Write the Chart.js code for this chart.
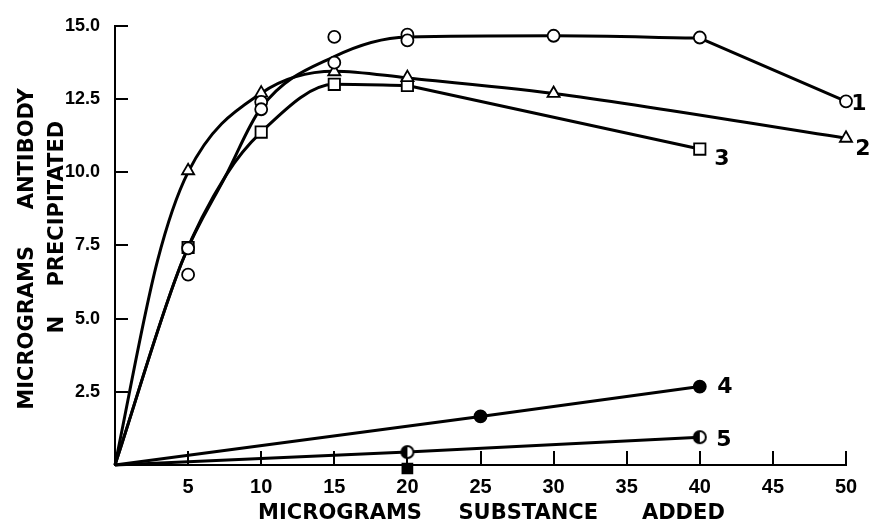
<!DOCTYPE html>
<html>
<head>
<meta charset="utf-8">
<title>Antibody precipitated vs substance added</title>
<script src="https://cdn.jsdelivr.net/npm/chart.js@4"></script>
<style>
  body { margin: 0; background: #fff; }
  canvas { display: block; }
</style>
</head>
<body>
<canvas id="chart" width="870" height="527"></canvas>
<script>
// tick values on the axes
var xTicks = [5, 10, 15, 20, 25, 30, 35, 40, 45, 50];
var yTicks = [2.5, 5, 7.5, 10, 12.5, 15];

// measured points (x = micrograms substance added, y = micrograms N precipitated)
var s1X = [5, 5, 10, 10, 15, 15, 20, 20, 30, 40, 50];
var s1Y = [7.4, 6.5, 12.4, 12.15, 14.62, 13.74, 14.7, 14.5, 14.66, 14.6, 12.42];
var s2X = [5, 10, 15, 20, 30, 50];
var s2Y = [10.05, 12.7, 13.43, 13.23, 12.69, 11.16];
var s3X = [5, 10, 15, 20, 40];
var s3Y = [7.43, 11.37, 13.0, 12.96, 10.79];
var s4X = [0, 25, 40];
var s4Y = [0, 1.66, 2.68];
var s5X = [0, 20, 40];
var s5Y = [0, 0.44, 0.95];
var blankX = [20];
var blankY = [-0.12];

// the hand drawn curves through series 1-3
var c1X = [0, 4.6, 7.6, 10, 15, 20, 30, 40];
var c1Y = [0, 6.96, 9.9, 12.2, 13.95, 14.62, 14.66, 14.58];
var c1TailX = [40, 50];
var c1TailY = [14.58, 12.42];
var c2X = [0, 2.9, 5, 10, 15, 20, 30, 50];
var c2Y = [0, 6.96, 10.0, 12.7, 13.45, 13.22, 12.69, 11.16];
var c3X = [0, 4.6, 7.6, 10, 15, 20];
var c3Y = [0, 6.96, 9.9, 11.37, 13.0, 12.96];
var c3TailX = [20, 40];
var c3TailY = [12.96, 10.79];

var seriesNames = ['1', '2', '3', '4', '5'];

// turn two arrays into {x, y} points
function pts(xs, ys) {
    return xs.map(function (x, i) { return { x: x, y: ys[i] }; });
}

// circle with the left half filled, used for series 5
function halfCircle() {
    var c = document.createElement('canvas');
    c.width = 16; c.height = 16;
    var g = c.getContext('2d');
    g.beginPath(); g.arc(8, 8, 6, 0, 2 * Math.PI); g.fillStyle = '#fff'; g.fill();
    g.beginPath(); g.moveTo(8, 2); g.arc(8, 8, 6, Math.PI / 2, 3 * Math.PI / 2); g.closePath();
    g.fillStyle = '#000'; g.fill();
    g.beginPath(); g.arc(8, 8, 6, 0, 2 * Math.PI); g.lineWidth = 2; g.strokeStyle = '#000'; g.stroke();
    return c;
}

function markers(data, style, radius, fill) {
    return {
        data: data, showLine: false, pointStyle: style, pointRadius: radius,
        pointBackgroundColor: fill, pointBorderColor: '#000', pointBorderWidth: 1.8, clip: false
    };
}

function curve(data, smooth) {
    return {
        data: data, showLine: true, pointRadius: 0, borderColor: '#000', borderWidth: 3,
        cubicInterpolationMode: smooth ? 'monotone' : 'default', tension: 0, clip: false
    };
}

// inward tick marks on both axes, plus the series numbers at the line ends
var axisExtras = {
    id: 'axisExtras',
    beforeDatasetsDraw: function (chart) {
        var ctx = chart.ctx, xs = chart.scales.x, ys = chart.scales.y, area = chart.chartArea;
        ctx.save();
        ctx.strokeStyle = '#000';
        ctx.lineWidth = 2;
        yTicks.forEach(function (v) {
            var py = Math.round(ys.getPixelForValue(v));
            ctx.beginPath(); ctx.moveTo(area.left, py); ctx.lineTo(area.left + 13, py); ctx.stroke();
        });
        xTicks.forEach(function (v) {
            var px = Math.round(xs.getPixelForValue(v));
            ctx.beginPath(); ctx.moveTo(px, area.bottom); ctx.lineTo(px, area.bottom - 14); ctx.stroke();
        });
        ctx.restore();
    },
    afterDraw: function (chart) {
        var ctx = chart.ctx, xs = chart.scales.x, ys = chart.scales.y;
        var ends = [[s1X, s1Y], [s2X, s2Y], [s3X, s3Y], [s4X, s4Y], [s5X, s5Y]];
        var offsets = [[13, 3], [17, 11], [22, 10], [25, 1], [24, 3]];
        ctx.save();
        ctx.fillStyle = '#000';
        ctx.font = 'bold 22px "DejaVu Sans"';
        ctx.textAlign = 'center';
        ctx.textBaseline = 'middle';
        ends.forEach(function (s, i) {
            var n = s[0].length - 1;
            var px = xs.getPixelForValue(s[0][n]) + offsets[i][0];
            var py = ys.getPixelForValue(s[1][n]) + offsets[i][1];
            ctx.fillText(seriesNames[i], px, py);
        });
        ctx.restore();
    }
};

var ctx = document.getElementById('chart').getContext('2d');
Chart.defaults.color = '#000';
Chart.defaults.font.family = '"DejaVu Sans"';

var chart = new Chart(ctx, {
    type: 'scatter',
    data: {
        datasets: [
            markers(pts(blankX, blankY), 'rect', 7, '#000'),
            markers(pts(s4X.slice(1), s4Y.slice(1)), 'circle', 6, '#000'),
            markers(pts(s5X.slice(1), s5Y.slice(1)), halfCircle(), 6, '#fff'),
            markers(pts(s1X, s1Y), 'circle', 6, '#fff'),
            markers(pts(s2X, s2Y), 'triangle', 7, '#fff'),
            markers(pts(s3X, s3Y), 'rect', 8, '#fff'),
            curve(pts(c1X, c1Y), true),
            curve(pts(c1TailX, c1TailY), false),
            curve(pts(c2X, c2Y), true),
            curve(pts(c3X, c3Y), true),
            curve(pts(c3TailX, c3TailY), false),
            curve(pts(s4X, s4Y), false),
            curve(pts(s5X, s5Y), false)
        ]
    },
    options: {
        responsive: false,
        animation: false,
        layout: { padding: { top: 23, right: 24, left: 0, bottom: 0 } },
        plugins: { legend: { display: false }, tooltip: { enabled: false } },
        scales: {
            x: {
                type: 'linear', min: 0, max: 50,
                afterBuildTicks: function (axis) { axis.ticks = xTicks.map(function (v) { return { value: v }; }); },
                afterFit: function (axis) { axis.height = 62; },
                grid: { display: false, drawTicks: false },
                border: { display: true, color: '#000', width: 2 },
                ticks: {
                    padding: 10, maxRotation: 0, autoSkip: false,
                    font: { family: '"Liberation Sans"', size: 20, weight: 'bold' },
                    callback: function (v) { return String(v); }
                },
                title: {
                    display: true,
                    text: '   MICROGRAMS     SUBSTANCE      ADDED',
                    font: { size: 21, weight: 'bold' },
                    padding: { top: 0, bottom: 1 }
                }
            },
            y: {
                type: 'linear', min: 0, max: 15,
                afterBuildTicks: function (axis) { axis.ticks = yTicks.map(function (v) { return { value: v }; }); },
                afterFit: function (axis) { axis.width = 115; },
                grid: { display: false, drawTicks: false },
                border: { display: true, color: '#000', width: 2 },
                ticks: {
                    padding: 15, autoSkip: false,
                    font: { family: '"Liberation Sans"', size: 18, weight: 'bold' },
                    callback: function (v) { return v.toFixed(1); }
                },
                title: {
                    display: true,
                    text: ['MICROGRAMS     ANTIBODY ', '     N    PRECIPITATED'],
                    font: { size: 21, weight: 'bold', lineHeight: 1.4 },
                    padding: { top: 13, bottom: 0 }
                }
            }
        }
    },
    plugins: [axisExtras]
});
</script>
</body>
</html>
